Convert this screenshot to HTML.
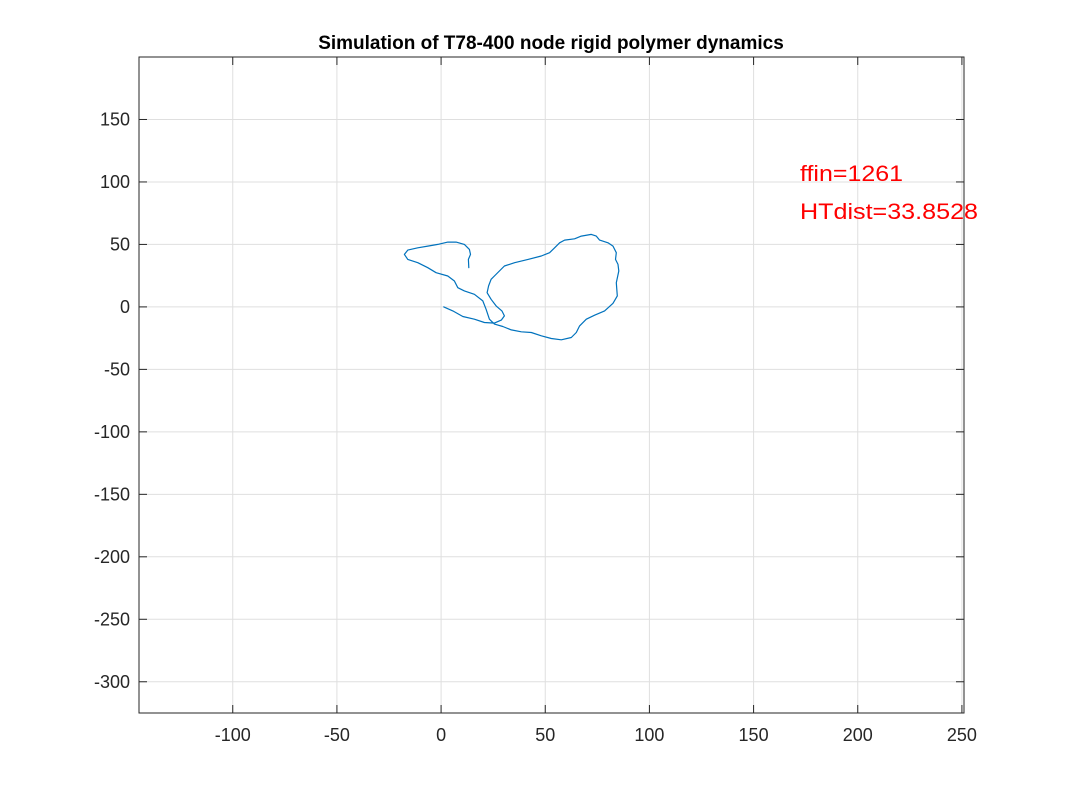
<!DOCTYPE html>
<html><head><meta charset="utf-8"><style>
body{margin:0;background:#fff;}
svg{display:block;font-family:"Liberation Sans",Arial,sans-serif;}
</style></head><body>
<svg id="chart" width="1067" height="800">
<rect x="0" y="0" width="1067" height="800" fill="#fff"/>
<g id="grid"></g>
<g id="series"></g>
<g id="axes"></g>
<text x="551" y="49" text-anchor="middle" font-size="19" font-weight="bold" fill="#000">Simulation of T78-400 node rigid polymer dynamics</text>
<text x="800" y="181" font-size="22" fill="#ff0000" textLength="103" lengthAdjust="spacingAndGlyphs">ffin=1261</text>
<text x="800" y="219" font-size="22" fill="#ff0000" textLength="178" lengthAdjust="spacingAndGlyphs">HTdist=33.8528</text>
</svg>
<script>
const xTicks=[-100,-50,0,50,100,150,200,250];
const yTicks=[150,100,50,0,-50,-100,-150,-200,-250,-300];
const polyX=[1.3,5.6,10.4,16.0,20.8,25.6,28.9,30.4,29.2,26.4,24.0,22.1,22.8,24.0,25.6,28.0,30.4,35.3,41.7,48.1,52.1,54.5,56.9,59.3,64.1,67.3,72.1,74.5,76.1,80.1,82.5,84.1,83.7,84.9,85.3,84.1,84.6,82.5,78.5,73.7,69.7,66.5,64.9,62.5,57.7,52.9,48.1,43.3,38.5,33.7,29.6,25.6,23.2,21.6,20.0,16.0,11.2,8.0,6.4,3.2,-2.4,-6.4,-11.2,-16.0,-17.6,-16.0,-11.2,-6.4,-1.6,3.2,7.2,11.2,13.6,14.1,13.1,13.3];
const polyY=[0,-3.2,-7.7,-9.8,-12.5,-13.0,-10.6,-7.2,-3.2,0.8,6.1,11.4,16.8,22.1,24.7,28.7,32.7,35.4,38.0,40.7,43.4,47.3,51.3,53.5,54.5,56.7,58.0,56.7,53.5,51.3,48.7,43.4,38.0,34.0,28.7,19.4,8.8,2.9,-3.2,-6.6,-9.8,-15.2,-20.5,-24.5,-26.3,-25.3,-23.1,-20.5,-19.9,-18.4,-15.7,-13.8,-9.8,-1.9,4.8,10.1,12.8,15.4,20.7,24.7,27.4,31.4,35.4,38.0,42.0,45.5,47.3,48.7,50.0,51.9,51.9,50.0,46.0,42.0,38.0,31.4];
const L=139,R=964,T=57,B=713,xmin=-145,xmax=251,ymin=-325,ymax=200;
const sx=v=>L+(v-xmin)/(xmax-xmin)*(R-L);
const sy=v=>B-(v-ymin)/(ymax-ymin)*(B-T);
const NS="http://www.w3.org/2000/svg";
const grid=document.getElementById('grid'),axes=document.getElementById('axes'),series=document.getElementById('series');
function mk(tag,attrs,parent){const e=document.createElementNS(NS,tag);for(const k in attrs)e.setAttribute(k,attrs[k]);parent.appendChild(e);return e;}
xTicks.forEach(t=>{const x=sx(t);
 const g=mk('line',{x1:x,x2:x,y1:T,y2:B,stroke:'#dfdfdf','stroke-width':1},grid);
 
 
 const tk=mk('line',{x1:x,x2:x,y1:B,y2:B-8,stroke:'#262626'},axes);
 
 
 const tk2=mk('line',{x1:x,x2:x,y1:T,y2:T+8,stroke:'#262626'},axes);
 
 
 const lb=mk('text',{x:x,y:B+28,'text-anchor':'middle','font-size':18,fill:'#262626'},axes);lb.textContent=t;
 
 
});
yTicks.forEach(t=>{const y=sy(t);
 const g=mk('line',{x1:L,x2:R,y1:y,y2:y,stroke:'#dfdfdf','stroke-width':1},grid);
 
 
 const tk=mk('line',{x1:L,x2:L+8,y1:y,y2:y,stroke:'#262626'},axes);
 
 
 const tk2=mk('line',{x1:R,x2:R-8,y1:y,y2:y,stroke:'#262626'},axes);
 
 
 const lb=mk('text',{x:L-9,y:y+6,'text-anchor':'end','font-size':18,fill:'#262626'},axes);lb.textContent=t;
 
 
});
const box=mk('rect',{x:L,y:T,width:R-L,height:B-T,fill:'none',stroke:'#262626','stroke-width':1},axes);


const pts=polyX.map((x,i)=>sx(x).toFixed(1)+','+sy(polyY[i]).toFixed(1)).join(' ');
const pl=mk('polyline',{points:pts,fill:'none',stroke:'#0072bd','stroke-width':1.2,'stroke-linejoin':'round','stroke-linecap':'round'},series);


</script>
</body></html>
